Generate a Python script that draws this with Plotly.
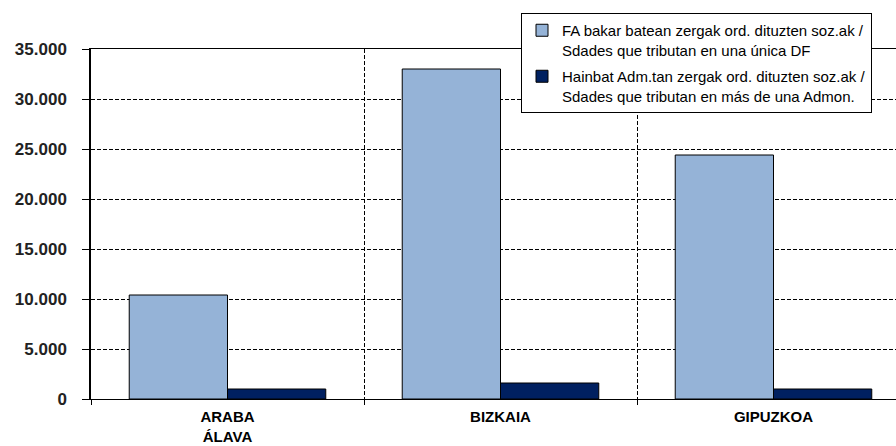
import plotly.graph_objects as go

categories = ["ARABA<br>ÁLAVA", "BIZKAIA", "GIPUZKOA"]
series_names = [
    "FA bakar batean zergak ord. dituzten soz.ak /<br>Sdades que tributan en una única DF",
    "Hainbat Adm.tan zergak ord. dituzten soz.ak /<br>Sdades que tributan en más de una Admon.",
]
single_df = [10400, 33000, 24400]
multi_admon = [1000, 1600, 1000]
y_ticks = [0, 5000, 10000, 15000, 20000, 25000, 30000, 35000]

colors = ["#95B3D7", "#002060"]

fig = go.Figure()
fig.add_trace(go.Bar(x=categories, y=single_df, name=series_names[0], legendgroup="a",
                     marker=dict(color=colors[0], line=dict(color="black", width=1))))
fig.add_trace(go.Bar(x=categories, y=multi_admon, name=series_names[1], legendgroup="b",
                     marker=dict(color=colors[1], line=dict(color="black", width=1))))

fig.update_layout(
    width=896, height=446,
    margin=dict(l=91, r=0, t=49, b=47, autoexpand=False),
    paper_bgcolor="white", plot_bgcolor="white",
    barmode="group", bargap=0.28, bargroupgap=0,
    separators=",.",
    font=dict(family="Liberation Sans, Arial", color="black"),
    legend=dict(
        x=(521 - 91) / 805, y=(399 - 13) / 350, xanchor="left", yanchor="top",
        bgcolor="white", bordercolor="black", borderwidth=1,
        font=dict(size=15, color="black"), valign="top",
        traceorder="grouped", tracegroupgap=4,
    ),
    xaxis=dict(
        type="category", range=[-0.5, -0.5 + 805 / 273], automargin=False,
        tickson="boundaries", ticks="outside", ticklen=5, tickcolor="black",
        showgrid=True, gridcolor="black", griddash="4px,2px", gridwidth=1,
        showline=True, linecolor="black", linewidth=1, mirror=True,
        tickfont=dict(size=15, color="black", weight="bold"),
        ticklabelstandoff=4,
    ),
    yaxis=dict(
        range=[0, 35000], tickvals=y_ticks, tickformat=",d", automargin=False,
        ticks="outside", ticklen=7, tickcolor="black",
        showgrid=True, gridcolor="black", griddash="4px,2px", gridwidth=1,
        showline=True, linecolor="black", linewidth=1.5, zeroline=False,
        tickfont=dict(size=17, color="#222222", weight="bold"),
        ticklabelstandoff=12,
    ),
)

fig.write_html("out.html", config={"displayModeBar": False},
               post_script="document.body.style.margin='0';")
